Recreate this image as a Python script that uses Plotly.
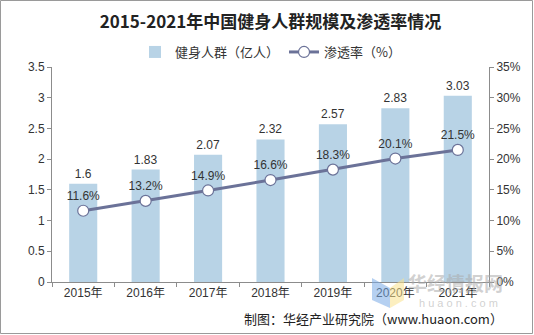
import plotly.graph_objects as go

years = ["2015年", "2016年", "2017年", "2018年", "2019年", "2020年", "2021年"]
population = [1.6, 1.83, 2.07, 2.32, 2.57, 2.83, 3.03]          # 亿人
penetration = [11.6, 13.2, 14.9, 16.6, 18.3, 20.1, 21.5]        # %

W, H = 534, 335
ML, MR, MT, MB = 52, 45, 67, 53
PW, PH = W - ML - MR, H - MT - MB

BAR_COLOR = "#b8d3e6"
LINE_COLOR = "#6b7298"
AXIS_COLOR = "#8c8c8c"
TEXT_COLOR = "#333333"
FONT = "Liberation Sans, Noto Sans CJK SC, sans-serif"


def px_x(px):
    return (px - ML) / PW


def px_y(py):
    return (PH - (py - MT)) / PH


fig = go.Figure()

fig.add_trace(go.Bar(
    x=years, y=population, name="健身人群（亿人）",
    marker=dict(color=BAR_COLOR, line=dict(width=0)),
    width=0.45,
    text=[f"{v:g}" for v in population], textposition="outside",
    textfont=dict(size=12, color=TEXT_COLOR, family=FONT),
    cliponaxis=False,
))

fig.add_trace(go.Scatter(
    x=years, y=penetration, name="渗透率（%）", yaxis="y2",
    mode="lines+markers+text",
    line=dict(color=LINE_COLOR, width=3),
    marker=dict(symbol="circle", size=11, color="white",
                line=dict(color=LINE_COLOR, width=1.2)),
    text=[f"{v:.1f}%" for v in penetration], textposition="top center",
    textfont=dict(size=12, color=TEXT_COLOR, family=FONT),
    cliponaxis=False,
))

fig.update_layout(
    width=W, height=H,
    margin=dict(l=ML, r=MR, t=MT, b=MB, autoexpand=False),
    paper_bgcolor="white", plot_bgcolor="white",
    font=dict(family=FONT, size=12, color=TEXT_COLOR),
    title=dict(text="<b>2015-2021年中国健身人群规模及渗透率情况</b>",
               x=0.5, xref="paper", xanchor="center",
               y=1 - 22 / H, yanchor="middle",
               font=dict(size=17, color="#222222",
                         family="Noto Sans CJK SC, serif")),
    legend=dict(orientation="h", x=0.5, xanchor="center",
                y=px_y(52), yanchor="middle", xref="paper",
                font=dict(size=13, color=TEXT_COLOR,
                          family="Noto Sans CJK SC, sans-serif"),
                traceorder="normal", bgcolor="rgba(0,0,0,0)"),
    xaxis=dict(showline=True, linecolor=AXIS_COLOR, linewidth=1,
               ticks="outside", ticklen=4, tickcolor=AXIS_COLOR,
               tickson="boundaries", showgrid=False, automargin=False,
               tickfont=dict(size=12, color=TEXT_COLOR, family=FONT)),
    yaxis=dict(range=[0, 3.5], dtick=0.5, showline=True,
               linecolor=AXIS_COLOR, linewidth=1, ticks="outside",
               ticklen=4, tickcolor=AXIS_COLOR, showgrid=False,
               zeroline=False, automargin=False,
               tickfont=dict(size=12, color=TEXT_COLOR, family=FONT)),
    yaxis2=dict(range=[0, 35], dtick=5, overlaying="y", side="right",
                showline=True, linecolor=AXIS_COLOR, linewidth=1,
                ticks="outside", ticklen=4, tickcolor=AXIS_COLOR,
                showgrid=False, zeroline=False, ticksuffix="%",
                automargin=False,
                tickfont=dict(size=12, color=TEXT_COLOR, family=FONT)),
)

# outer frame
fig.add_shape(type="rect", xref="paper", yref="paper",
              x0=px_x(0.5), x1=px_x(W - 1.5),
              y0=px_y(H - 1.5), y1=px_y(0.5),
              line=dict(color="#9a9a9a", width=1), fillcolor="rgba(0,0,0,0)",
              layer="below")

# watermark logo and name
fig.add_shape(type="path", xref="paper", yref="paper",
              path=f"M {px_x(372)} {px_y(278)} L {px_x(390)} {px_y(288)} "
                   f"L {px_x(390)} {px_y(308)} L {px_x(372)} {px_y(300)} Z",
              fillcolor="rgba(120,170,230,0.55)", line=dict(width=0),
              layer="above")
fig.add_shape(type="path", xref="paper", yref="paper",
              path=f"M {px_x(390)} {px_y(288)} L {px_x(404)} {px_y(278)} "
                   f"L {px_x(404)} {px_y(300)} L {px_x(390)} {px_y(308)} Z",
              fillcolor="rgba(250,225,140,0.55)", line=dict(width=0),
              layer="above")
fig.add_annotation(text="<b>华经情报网</b>", xref="paper", yref="paper",
                   x=px_x(455), y=px_y(282),
                   showarrow=False, font=dict(size=19, color="rgba(170,170,170,0.55)",
                                              family="Noto Sans CJK SC"),
                   xanchor="center", yanchor="middle")
fig.add_annotation(text="h u a o n . c o m", xref="paper", yref="paper",
                   x=px_x(458), y=px_y(303),
                   showarrow=False, font=dict(size=11, color="rgba(170,170,170,0.55)",
                                              family=FONT),
                   xanchor="center", yanchor="middle")

# source note
fig.add_annotation(text="制图：华经产业研究院（www.huaon.com）",
                   xref="paper", yref="paper",
                   x=px_x(505), y=px_y(318),
                   xanchor="right", yanchor="middle", showarrow=False,
                   font=dict(size=13, color="#222222",
                             family="Noto Sans CJK SC, sans-serif"))

fig.write_html("out.html")
